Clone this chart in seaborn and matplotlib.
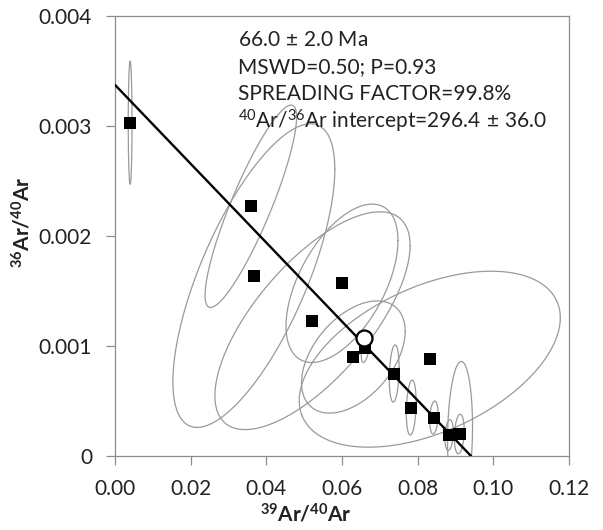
import numpy as np
import pandas as pd
import matplotlib
matplotlib.use("Agg")
import matplotlib.pyplot as plt
import seaborn as sns

# Step data: 39Ar/40Ar vs 36Ar/40Ar with error ellipse parameters
ar39_40 = [0.0040, 0.0359, 0.0367, 0.0522, 0.0600, 0.0630, 0.0662, 0.0738,
           0.0783, 0.0832, 0.0843, 0.0883, 0.0910, 0.0912]
ar36_40 = [0.00303, 0.00227, 0.00164, 0.00123, 0.00157, 0.00090, 0.00098, 0.00075,
           0.00044, 0.00088, 0.00035, 0.00019, 0.00020, 0.00020]
err_x = [0.0005, 0.0121, 0.0214, 0.0258, 0.0148, 0.0137, 0.0011, 0.0013,
         0.0013, 0.0345, 0.0011, 0.0011, 0.0013, 0.0033]
err_y = [0.00056, 0.00092, 0.00138, 0.00099, 0.00072, 0.00051, 0.00013, 0.00026,
         0.00025, 0.00080, 0.00015, 0.00014, 0.00018, 0.00066]
err_rho = [0.0, 0.88, 0.70, 0.69, 0.54, 0.46, 0.5, 0.2,
           0.2, 0.47, 0.2, 0.2, 0.2, 0.1]

# Isochron fit
intercept_40_36 = 296.4
x_intercept = 0.0941
centroid = (0.0657, 0.00107)

info_lines = [
    r"66.0$\,\pm\,$2.0 Ma",
    "MSWD=0.50; P=0.93",
    "SPREADING FACTOR=99.8%",
    r"$^{40}$Ar/$^{36}$Ar intercept=296.4$\,\pm\,$36.0",
]

x_ticks = [0.00, 0.02, 0.04, 0.06, 0.08, 0.10, 0.12]
y_ticks = [0, 0.001, 0.002, 0.003, 0.004]

sns.set_theme(style="white")
plt.rcParams["font.family"] = ["Lato", "DejaVu Sans"]
plt.rcParams["mathtext.fontset"] = "custom"
plt.rcParams["mathtext.rm"] = "Lato"
plt.rcParams["mathtext.bf"] = "Lato:bold"
plt.rcParams["mathtext.it"] = "Lato:italic"

fig = plt.figure(figsize=(6.03, 5.30), dpi=100)
ax = fig.add_axes([115 / 603, 1 - 456 / 530, 454 / 603, 440 / 530])

# Error ellipses
t = np.linspace(0, 2 * np.pi, 200)
for cx, cy, hx, hy, r in zip(ar39_40, ar36_40, err_x, err_y, err_rho):
    ex = cx + hx * np.cos(t)
    ey = cy + hy * (r * np.cos(t) + np.sqrt(1 - r * r) * np.sin(t))
    ax.plot(ex, ey, color="#9a9a9a", lw=0.9, zorder=1)

# Isochron line
line_df = pd.DataFrame({"x": [0.0, x_intercept], "y": [1 / intercept_40_36, 0.0]})
sns.lineplot(data=line_df, x="x", y="y", color="black", lw=1.7, ax=ax, zorder=3)

# Data points
pts = pd.DataFrame({"x": ar39_40, "y": ar36_40})
sns.scatterplot(data=pts, x="x", y="y", marker="s", s=78, color="black",
                edgecolor="black", linewidth=0, ax=ax, zorder=4)

# Centroid
ax.plot([centroid[0]], [centroid[1]], marker="o", ms=11.5, mfc="white",
        mec="black", mew=1.6, zorder=5, linestyle="none")

ax.set_xlim(0, 0.12)
ax.set_ylim(0, 0.004)
ax.set_xticks(x_ticks)
ax.set_xticklabels([f"{v:.2f}" for v in x_ticks])
ax.set_yticks(y_ticks)
ax.set_yticklabels(["0"] + [f"{v:.3f}" for v in y_ticks[1:]])

for s in ax.spines.values():
    s.set_color("#8c8c8c")
    s.set_linewidth(0.9)
ax.tick_params(axis="both", which="both", direction="out", length=6.5, width=0.9,
               color="#8c8c8c", labelsize=15, labelcolor="#222222")
ax.tick_params(axis="x", pad=10, bottom=True)
ax.tick_params(axis="y", pad=10, left=True)

ax.set_xlabel(r"$^{\mathbf{39}}$Ar/$^{\mathbf{40}}$Ar", fontsize=15, fontweight="bold", color="#222222")
ax.set_ylabel(r"$^{\mathbf{36}}$Ar/$^{\mathbf{40}}$Ar", fontsize=15, fontweight="bold", color="#222222")
ax.xaxis.set_label_coords((306 - 115) / 454, -(503 - 456) / 440)
ax.yaxis.set_label_coords(-(115 - 34) / 454, (456 - 222) / 440)

for i, txt in enumerate(info_lines):
    ax.text(0.0324, 0.00378 - i * 0.000245, txt, fontsize=15, color="#222222",
            va="center", ha="left", zorder=6)

fig.savefig("out.png", dpi=100)
